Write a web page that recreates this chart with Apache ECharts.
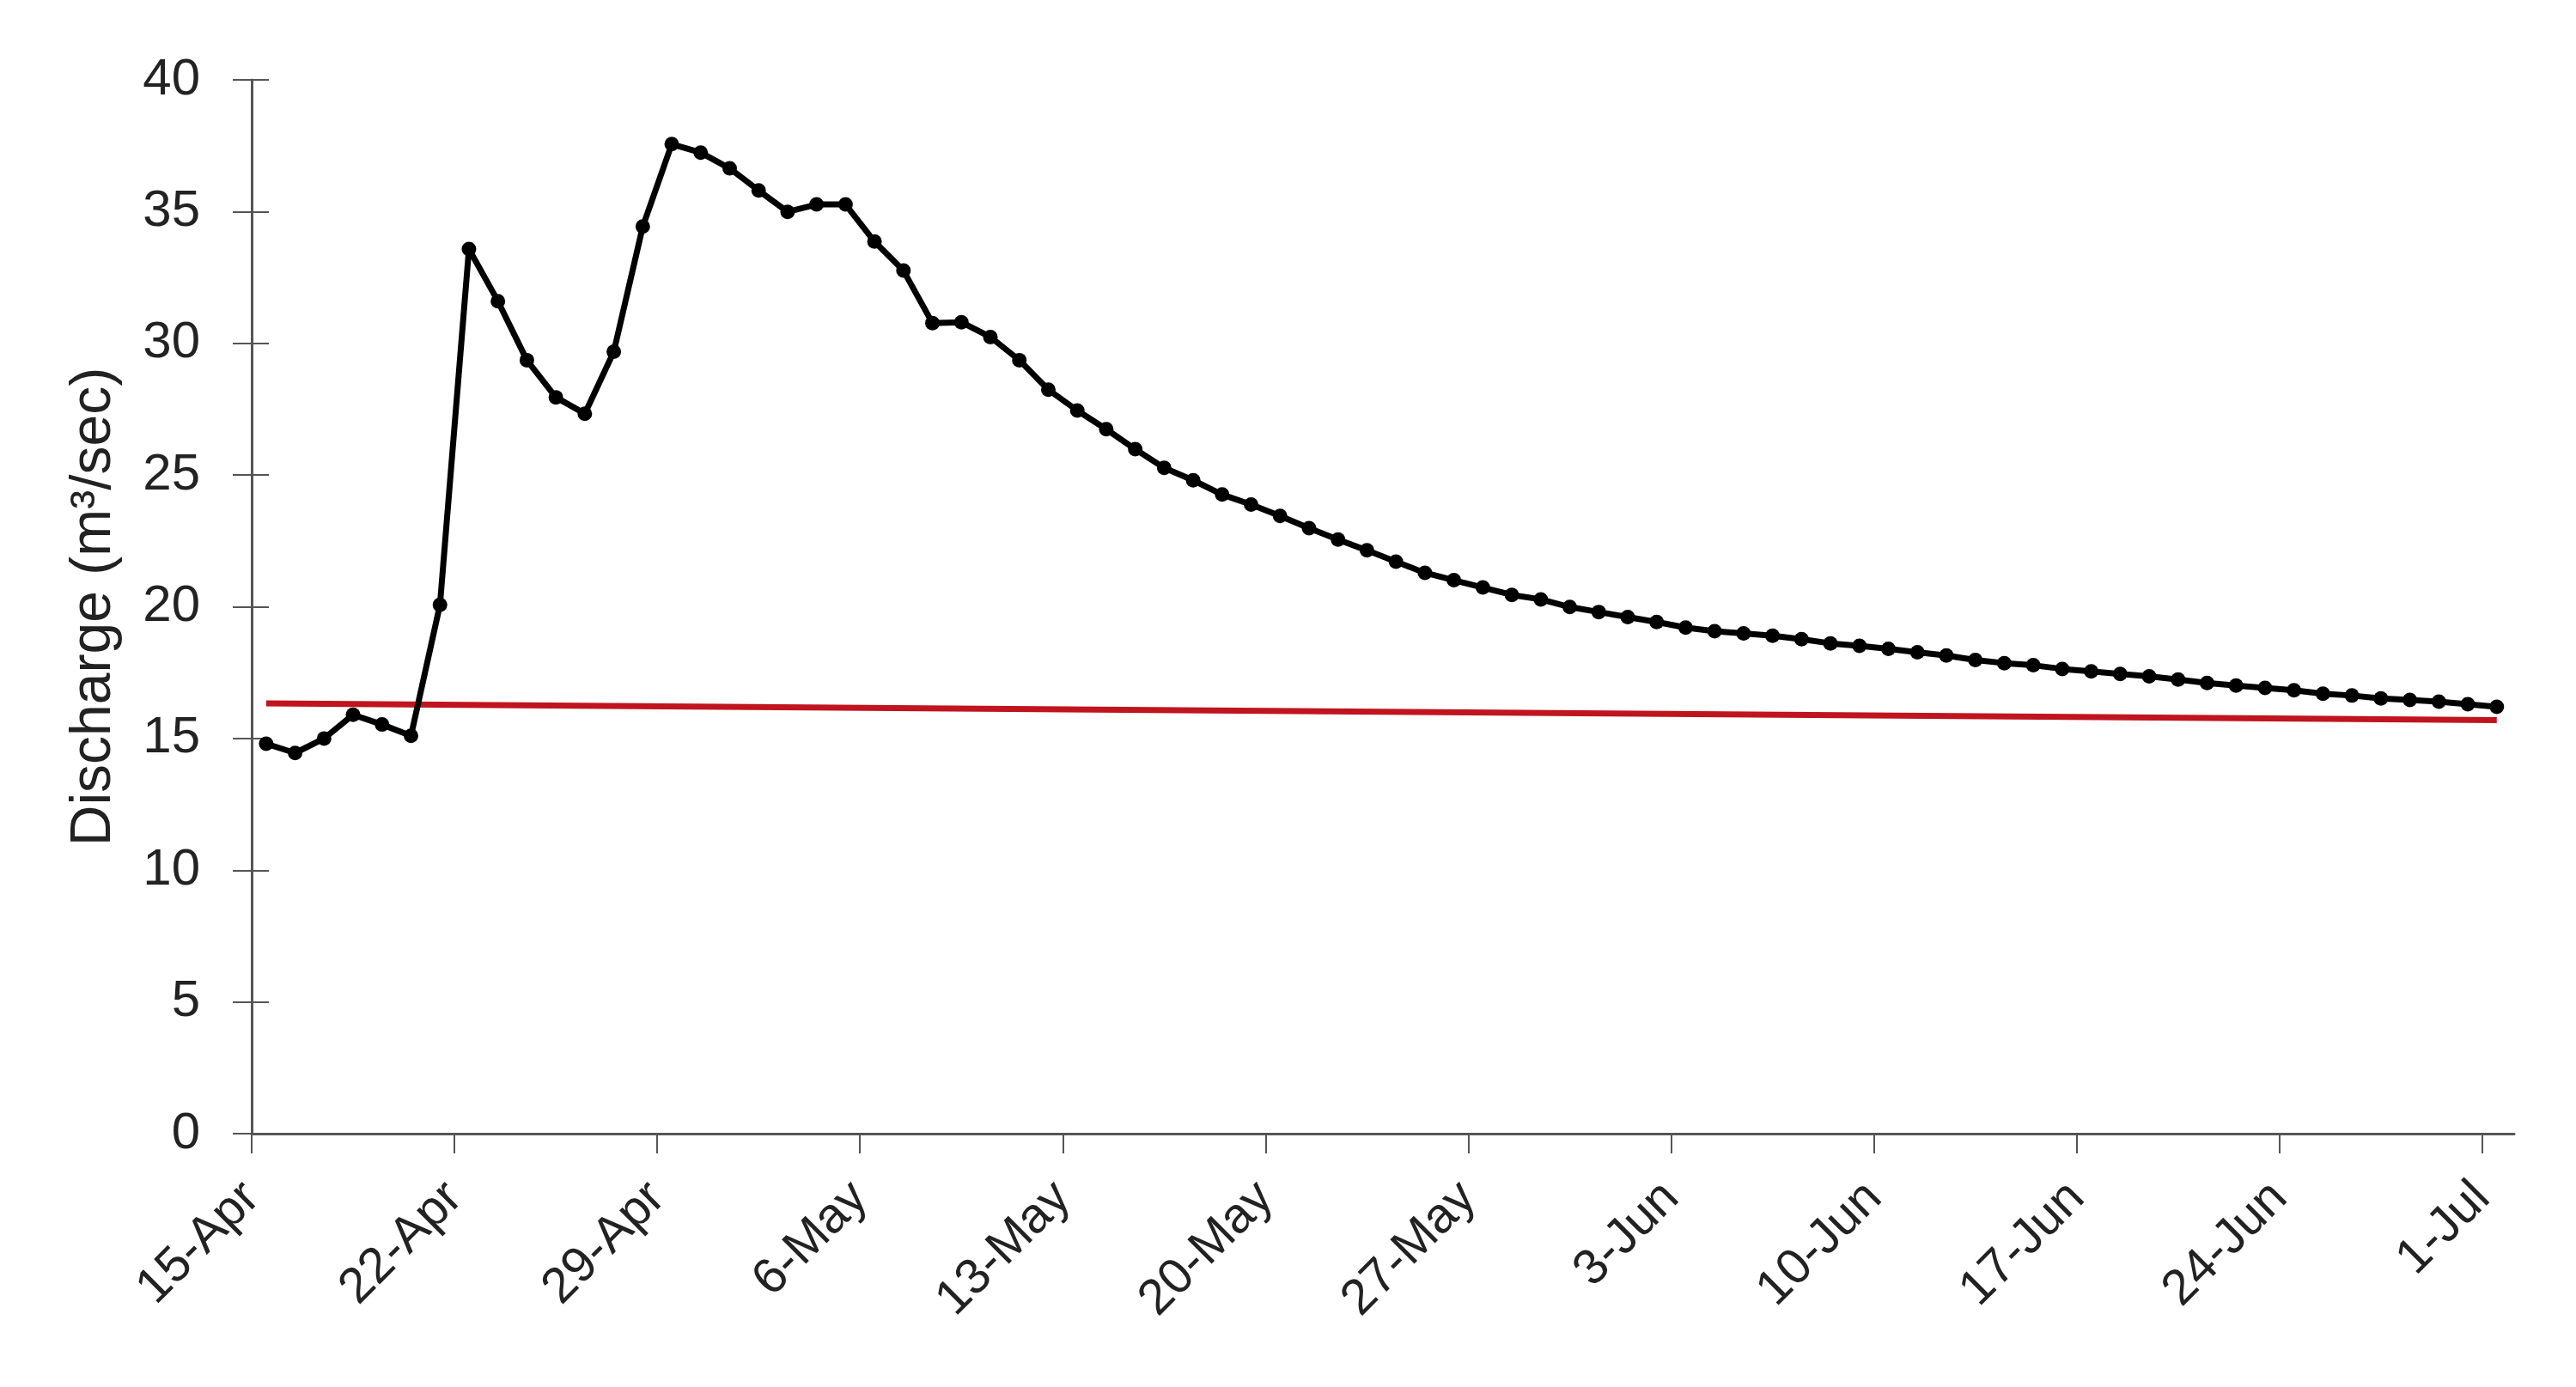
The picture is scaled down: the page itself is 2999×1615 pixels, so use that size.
<!DOCTYPE html>
<html>
<head>
<meta charset="utf-8">
<title>Discharge</title>
<script src="https://cdn.jsdelivr.net/npm/echarts@6/dist/echarts.min.js"></script>
<style>
  html, body { margin: 0; padding: 0; background: #ffffff; }
  #chart { width: 2999px; height: 1615px; }
</style>
</head>
<body>
<div id="chart"></div>
<script>
// Daily discharge (m3/sec), one value per day from 15-Apr to 1-Jul
const discharge = [
  14.8, 14.45, 15.0, 15.9, 15.53, 15.1, 20.07, 33.58, 31.6, 29.36,
  27.95, 27.33, 29.68, 34.43, 37.56, 37.24, 36.64, 35.8, 34.99, 35.27,
  35.27, 33.86, 32.76, 30.77, 30.8, 30.24, 29.36, 28.24, 27.45, 26.74,
  25.98, 25.27, 24.8, 24.26, 23.88, 23.45, 22.98, 22.55, 22.14, 21.71,
  21.29, 21.01, 20.73, 20.45, 20.28, 19.99, 19.8, 19.61, 19.42, 19.21,
  19.07, 18.99, 18.9, 18.77, 18.61, 18.52, 18.4, 18.27, 18.15, 17.98,
  17.86, 17.78, 17.64, 17.55, 17.45, 17.36, 17.24, 17.11, 17.01, 16.92,
  16.83, 16.7, 16.63, 16.52, 16.46, 16.4, 16.3, 16.2
];

// Straight red reference line, value at first and last day
const trendValues = [16.33, 15.7];

// x axis labels, every 7 days starting 15-Apr
const tickLabels = [
  "15-Apr", "22-Apr", "29-Apr", "6-May", "13-May", "20-May",
  "27-May", "3-Jun", "10-Jun", "17-Jun", "24-Jun", "1-Jul"
];
const tickStep = 7;

// daily values are plotted at midday
const dayCentre = 0.5;

const flowData = discharge.map((v, i) => [i + dayCentre, v]);
const trendData = [
  [dayCentre, trendValues[0]],
  [discharge.length - 1 + dayCentre, trendValues[1]]
];
const tickDays = tickLabels.map((_, i) => i * tickStep);

const font = "'Liberation Sans', Arial, sans-serif";
const axisColor = "#555555";
const textColor = "#222222";

const chart = echarts.init(document.getElementById("chart"));

chart.setOption({
  animation: false,
  backgroundColor: "#ffffff",
  grid: {
    left: 293,
    right: 72,
    top: 93,
    bottom: 295,
    containLabel: false,
    outerBoundsMode: "none"
  },
  xAxis: {
    type: "value",
    min: 0,
    max: 78.1,
    splitLine: { show: false },
    axisLine: { lineStyle: { color: axisColor, width: 3 } },
    axisTick: {
      customValues: tickDays,
      length: 23,
      lineStyle: { color: axisColor, width: 2 }
    },
    axisLabel: {
      customValues: tickDays,
      rotate: 45,
      margin: 66,
      fontSize: 58,
      fontFamily: font,
      color: textColor,
      formatter: function (value) {
        return tickLabels[Math.round(value / tickStep)];
      }
    }
  },
  yAxis: [
    {
      type: "value",
      min: 0,
      max: 40,
      interval: 5,
      splitLine: { show: false },
      axisLine: { show: true, lineStyle: { color: axisColor, width: 3 } },
      axisTick: {
        show: true,
        length: 22,
        lineStyle: { color: axisColor, width: 2 }
      },
      axisLabel: {
        margin: 60,
        fontSize: 60,
        fontFamily: font,
        color: textColor
      },
      name: "Discharge (m³/sec)",
      nameLocation: "middle",
      nameRotate: 90,
      nameGap: 150,
      nameTextStyle: {
        fontSize: 66,
        fontFamily: font,
        color: textColor
      }
    },
    {
      // inner half of the crossing y ticks
      type: "value",
      position: "left",
      min: 0,
      max: 40,
      interval: 5,
      splitLine: { show: false },
      axisLine: { show: false },
      axisLabel: { show: false },
      axisTick: {
        show: true,
        inside: true,
        length: 20,
        lineStyle: { color: axisColor, width: 2 }
      }
    }
  ],
  series: [
    {
      type: "line",
      data: trendData,
      showSymbol: false,
      lineStyle: { color: "#c0141e", width: 7 },
      z: 2
    },
    {
      type: "line",
      data: flowData,
      symbol: "circle",
      symbolSize: 17,
      itemStyle: { color: "#000000" },
      lineStyle: { color: "#000000", width: 7 },
      z: 3
    }
  ]
});
</script>
</body>
</html>
